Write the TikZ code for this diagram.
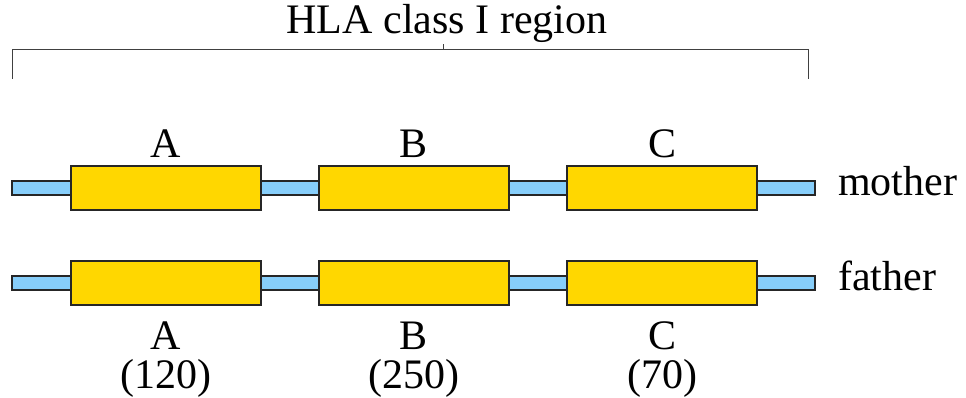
\documentclass[tikz,border=0pt]{standalone}
\usepackage{fontspec}
\setmainfont{Liberation Serif}
\begin{document}
\begin{tikzpicture}[x=1pt,y=-1pt,
  lbl/.style={font=\fontsize{42}{46}\selectfont, inner sep=0pt, anchor=base},
  chrom/.style={draw=black!85, line width=1.2pt, fill=blueC, inner sep=0pt, minimum height=14pt, minimum width=803pt},
  gene/.style={draw=black!85, line width=1.4pt, fill=goldC, inner sep=0pt, minimum height=44pt, minimum width=190pt},
  brk/.style={draw=black!75, line width=1pt}]
\definecolor{blueC}{HTML}{87CEFA}
\definecolor{goldC}{HTML}{FFD700}
\useasboundingbox (0,0) rectangle (966,398);
% bracket
\coordinate (bl) at (12,79);
\coordinate (bltop) at (12,50);
\coordinate (brtop) at (808,50);
\coordinate (br) at (808,79);
\coordinate (tickb) at (443,50);
\coordinate (tickt) at (443,44);
\draw[brk] (bl) -- (bltop) -- (brtop) -- (br);
\draw[brk] (tickb) -- (tickt);
\node[lbl] (title) at (447,34) {HLA class I region};
% mother
\node[chrom] (mchr) at (413.5,188) {};
\node[gene] (mA) at (166,188) {};
\node[gene] (mB) at (414,188) {};
\node[gene] (mC) at (662,188) {};
\node[lbl] (mAl) at (166,158) {A};
\node[lbl] (mBl) at (414,158) {B};
\node[lbl] (mCl) at (662,158) {C};
\node[lbl, anchor=base west] (mlab) at (838,196) {mother};
% father
\node[chrom] (fchr) at (413.5,283) {};
\node[gene] (fA) at (166,283) {};
\node[gene] (fB) at (414,283) {};
\node[gene] (fC) at (662,283) {};
\node[lbl] (fAl) at (166,349) {A};
\node[lbl] (fBl) at (414,349) {B};
\node[lbl] (fCl) at (662,349) {C};
\node[lbl, anchor=base west] (flab) at (838,290) {father};
\node[lbl] (nA) at (166,388) {(120)};
\node[lbl] (nB) at (414,388) {(250)};
\node[lbl] (nC) at (662,388) {(70)};
\end{tikzpicture}
\end{document}
